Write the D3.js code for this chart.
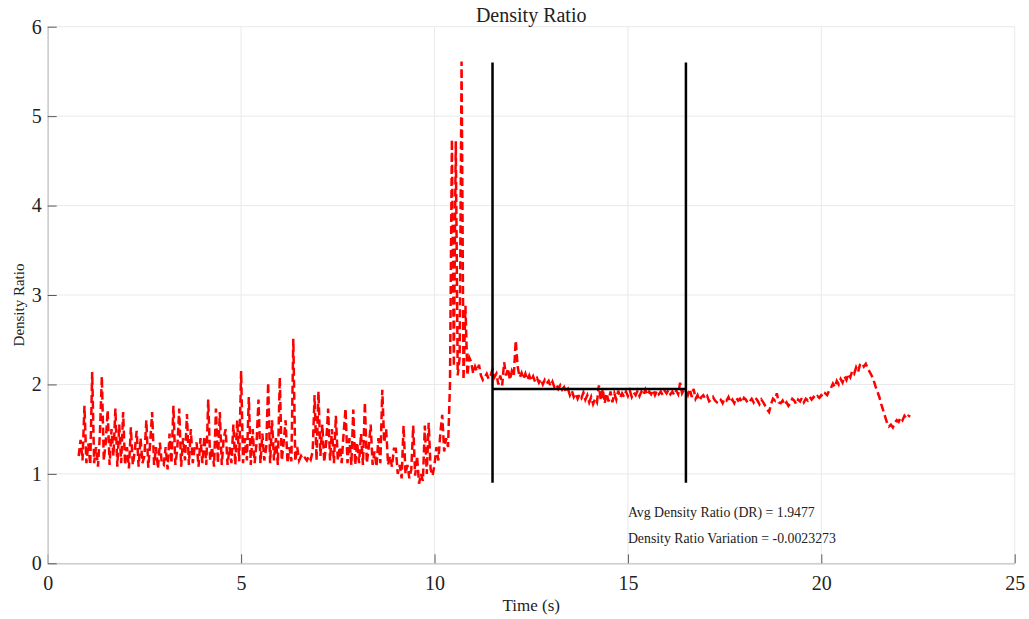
<!DOCTYPE html>
<html>
<head>
<meta charset="utf-8">
<script src="https://cdn.jsdelivr.net/npm/d3@7"></script>
<style>
  html, body { margin: 0; padding: 0; background: #fff; }
  svg { display: block; }
  svg text { font-family: "Liberation Serif", "Times New Roman", serif !important; fill: #222; }
</style>
</head>
<body>
<svg id="chart" width="1029" height="619"></svg>
<script>
// Density ratio samples, recorded every 0.05 s starting at 0.8 s
const startTime = 0.8;
const sampleStep = 0.05;
const densityRatio = [
  1.2, 1.38, 1.15, 1.76,
  1.12, 1.34, 1.1, 2.14, 1.12, 1.3, 1.08, 1.45, 2.09, 1.15, 1.35, 1.71, 1.1, 1.5, 1.2, 1.73, 1.08, 1.55, 1.12, 1.69,
  1.1, 1.3, 1.06, 1.52, 1.1, 1.25, 1.48, 1.08, 1.4, 1.12, 1.2, 1.6, 1.07, 1.35, 1.69, 1.1, 1.3, 1.06, 1.35, 1.12,
  1.1, 1.3, 1.05, 1.45, 1.12, 1.76, 1.1, 1.28, 1.73, 1.08, 1.4, 1.15, 1.67, 1.1, 1.5, 1.12, 1.3, 1.35, 1.08, 1.4,
  1.12, 1.42, 1.1, 1.83, 1.15, 1.3, 1.08, 1.73, 1.12, 1.69, 1.1, 1.4, 1.5, 1.1, 1.3, 1.12, 1.55, 1.1, 1.6, 1.14,
  2.15, 1.12, 1.4, 1.15, 1.86, 1.1, 1.5, 1.12, 1.35, 1.83, 1.12, 1.45, 1.15, 1.3, 2.02, 1.12, 1.6, 1.15, 1.4, 1.1,
  2.08, 1.15, 1.35, 1.6, 1.12, 1.3, 1.14, 2.51, 1.14, 1.3, 1.15, 1.2, 1.16, 1.18, 1.15, 1.2, 1.16, 1.25, 1.88, 1.15,
  1.92, 1.2, 1.55, 1.13, 1.35, 1.73, 1.15, 1.5, 1.12, 1.65, 1.15, 1.3, 1.12, 1.45, 1.73, 1.12, 1.4, 1.1, 1.72, 1.1,
  1.35, 1.12, 1.45, 1.1, 1.8, 1.12, 1.3, 1.55, 1.1, 1.25, 1.08, 1.4, 1.12, 1.94, 1.35, 1.5, 1.1, 1.2, 1.08, 1.28,
  1.28, 1.0, 1.1, 0.95, 1.54, 1.0, 1.1, 0.95, 1.05, 1.54, 0.98, 1.2, 0.89, 1.0, 0.92, 1.54, 1.0, 1.57, 1.05, 0.98,
  1.1, 1.3, 1.15, 1.45, 1.66, 1.25, 1.4, 1.3, 2.0, 4.74, 2.2, 4.72, 2.1, 2.3, 5.61, 2.05, 2.88, 2.1, 2.3, 2.25,
  2.12, 2.2, 2.15, 2.22, 2.1, 2.05, 2.08, 2.12, 2.06, 2.1, 2.17, 2.08, 2.12, 2.0, 2.1, 1.99, 2.25, 2.1, 2.18, 2.05,
  2.15, 2.1, 2.49, 2.2, 2.08, 2.13, 2.06, 2.12, 2.05, 2.1, 2.04, 2.09, 2.03, 2.07, 2.02, 2.06, 2.0, 2.05, 2.01, 2.04,
  1.98, 2.03, 1.97, 2.0, 1.95, 1.99, 1.94, 1.97, 1.92, 1.95, 1.88, 1.93, 1.86, 1.9, 1.84, 1.89, 1.85, 1.91, 1.83, 1.88,
  1.8, 1.86, 1.78, 1.84, 1.8, 1.99, 1.82, 1.95, 1.79, 1.9, 1.81, 1.92, 1.8, 1.9, 1.83, 1.93, 1.85, 1.9, 1.86, 1.92,
  1.87, 1.93, 1.86, 1.91, 1.88, 1.93, 1.87, 1.92, 1.88, 1.94, 1.88, 1.92, 1.89, 1.94, 1.88, 1.93, 1.89, 1.92, 1.88, 1.93,
  1.9, 1.94, 1.89, 1.92, 1.88, 1.93, 1.89, 2.02, 1.9, 1.94, 1.93, 1.88, 1.95, 1.86, 1.95, 1.84, 1.88, 1.82, 1.86, 1.88,
  1.84, 1.87, 1.81, 1.83, 1.86, 1.82, 1.8, 1.84, 1.83, 1.79, 1.84, 1.82, 1.86, 1.8, 1.83, 1.79, 1.85, 1.82, 1.84, 1.8,
  1.85, 1.83, 1.79, 1.81, 1.84, 1.8, 1.85, 1.82, 1.78, 1.83, 1.8, 1.76, 1.72, 1.69, 1.78, 1.84, 1.82, 1.9, 1.8, 1.79,
  1.82, 1.77, 1.8, 1.76, 1.79, 1.84, 1.82, 1.78, 1.83, 1.81, 1.85, 1.8, 1.84, 1.82, 1.86, 1.83, 1.86, 1.84, 1.87, 1.85,
  1.88, 1.86, 1.9, 1.88, 1.93, 1.96, 2.01, 1.97, 2.04, 2.0, 2.06, 2.02, 2.09, 2.05, 2.12, 2.08, 2.15, 2.12, 2.19, 2.14,
  2.22, 2.24, 2.2, 2.23, 2.18, 2.14, 2.1, 2.05, 1.98, 1.92, 1.86, 1.78, 1.71, 1.64, 1.57, 1.53, 1.55, 1.52, 1.57, 1.6,
  1.58, 1.63, 1.6, 1.65, 1.62, 1.65, 1.64
];

// Averaging window and its summary statistics
const windowBounds = [11.5, 16.5];
const windowMarkerRange = [0.9, 5.6];
const avgDensityRatio = 1.9477;
const densityRatioVariation = -0.0023273;

// Axis ticks
const xTicks = [0, 5, 10, 15, 20, 25];
const yTicks = [0, 1, 2, 3, 4, 5, 6];

const serif = "'Liberation Serif', 'Times New Roman', serif";
const svg = d3.select("#chart");
const plot = { left: 47.7, right: 1014.7, top: 26.7, bottom: 563.3 };

const x = d3.scaleLinear().domain([0, 25]).range([plot.left, plot.right]);
const y = d3.scaleLinear().domain([0, 6]).range([plot.bottom, plot.top]);

// Grid
const grid = svg.append("g").attr("stroke", "#e9e9e9").attr("stroke-width", 1);
grid.selectAll("line.v").data(xTicks).join("line")
  .attr("x1", d => x(d)).attr("x2", d => x(d))
  .attr("y1", plot.top).attr("y2", plot.bottom);
grid.selectAll("line.h").data(yTicks).join("line")
  .attr("x1", plot.left).attr("x2", plot.right)
  .attr("y1", d => y(d)).attr("y2", d => y(d));

// Axes with inward ticks
const xAxis = svg.append("g")
  .attr("transform", `translate(0,${plot.bottom})`)
  .call(d3.axisBottom(x).tickValues(xTicks).tickFormat(d3.format("d"))
    .tickSizeInner(-9).tickSizeOuter(0).tickPadding(13));
const yAxis = svg.append("g")
  .attr("transform", `translate(${plot.left},0)`)
  .call(d3.axisLeft(y).tickValues(yTicks).tickFormat(d3.format("d"))
    .tickSizeInner(-9).tickSizeOuter(0).tickPadding(6));

[xAxis, yAxis].forEach(ax => {
  ax.attr("font-family", serif);
  ax.select(".domain").attr("stroke", "#c4c4c4").attr("stroke-width", 1.2);
  ax.selectAll(".tick line").attr("stroke", "#5a5a5a").attr("stroke-width", 1);
  ax.selectAll(".tick text")
    .style("font-family", serif)
    .attr("font-size", 20).attr("fill", "#262626");
});

// Density ratio trace
const samples = densityRatio.map((v, i) => ({ t: startTime + i * sampleStep, v }));
const line = d3.line().x(d => x(d.t)).y(d => y(d.v));
svg.append("path")
  .datum(samples)
  .attr("d", line)
  .attr("fill", "none")
  .attr("stroke", "#ff0000")
  .attr("stroke-width", 2.5)
  .attr("stroke-dasharray", "8,4")
  .attr("stroke-linejoin", "miter");

// Averaging window markers and mean level
const marks = svg.append("g").attr("stroke", "#000").attr("stroke-width", 2.5);
marks.selectAll("line.win").data(windowBounds).join("line")
  .attr("x1", d => x(d)).attr("x2", d => x(d))
  .attr("y1", y(windowMarkerRange[0])).attr("y2", y(windowMarkerRange[1]));
marks.append("line")
  .attr("x1", x(windowBounds[0])).attr("x2", x(windowBounds[1]))
  .attr("y1", y(avgDensityRatio)).attr("y2", y(avgDensityRatio));

// Annotations
svg.append("text")
  .attr("x", x(15)).attr("y", y(0.52))
  .attr("font-size", 13.8)
  .text(`Avg Density Ratio (DR) = ${avgDensityRatio}`);
svg.append("text")
  .attr("x", x(15)).attr("y", y(0.23))
  .attr("font-size", 13.8)
  .text(`Density Ratio Variation = ${densityRatioVariation}`);

// Title and axis labels
svg.append("text")
  .attr("x", (plot.left + plot.right) / 2).attr("y", 21.5)
  .attr("text-anchor", "middle").attr("font-size", 20).attr("fill", "#000")
  .text("Density Ratio");
svg.append("text")
  .attr("x", (plot.left + plot.right) / 2).attr("y", 611)
  .attr("text-anchor", "middle").attr("font-size", 17)
  .text("Time (s)");
svg.append("text")
  .attr("transform", "translate(24,305) rotate(-90)")
  .attr("text-anchor", "middle").attr("font-size", 15)
  .text("Density Ratio");
</script>
</body>
</html>
